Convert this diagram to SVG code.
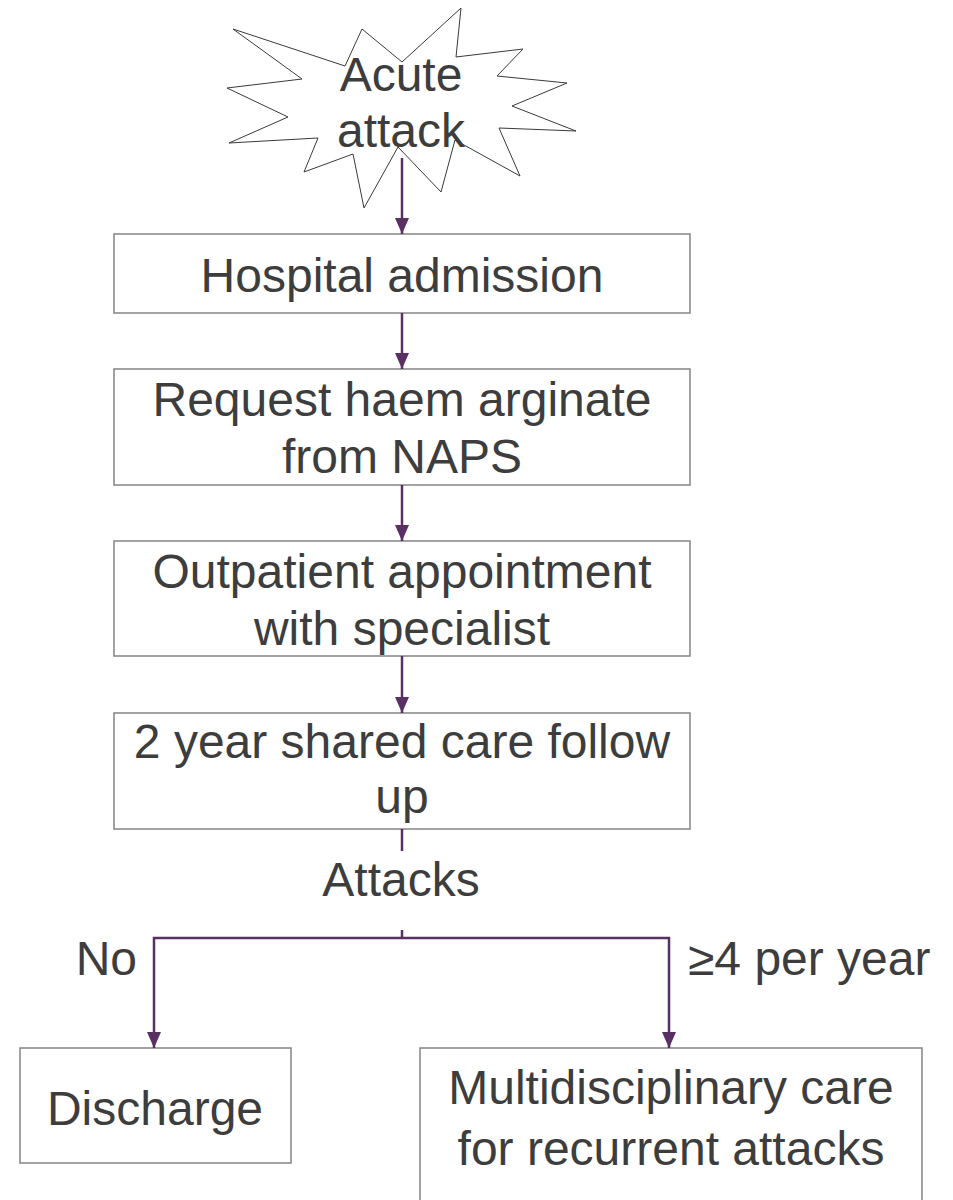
<svg xmlns="http://www.w3.org/2000/svg" width="953" height="1200" viewBox="0 0 953 1200">
<defs>
<style>
.box{fill:#ffffff;stroke:#8c8c8c;stroke-width:1.6}
.star{fill:#ffffff;stroke:#3a3a3a;stroke-width:1}
.t{font-family:"Liberation Sans",Arial,sans-serif;font-size:48px;fill:#3d3d3d;text-anchor:middle}
.c{fill:none;stroke:#5a2f63;stroke-width:2.5}
</style>
<marker id="ah" markerUnits="userSpaceOnUse" markerWidth="16" markerHeight="14" refX="16" refY="7" orient="auto">
<path d="M0,0 L16,7 L0,14 Z" fill="#5a2f63"/>
</marker>
</defs>
<rect width="953" height="1200" fill="#ffffff"/>
<g id="n-acute">
<polygon class="star" points="233,29 345,66 362,29 402,62 461,8 456,57 523,49 497,76 567,83 512,106 576,131 499,128 520,176 455,140 441,192 398,147 364,208 353,154 304,172 318,138 229,143 288,117 227,88 302,79"/>
<text class="t" x="401" y="91">Acute</text>
<text class="t" x="401" y="147">attack</text>
</g>
<g id="n-hospital">
<rect class="box" x="114" y="234" width="576" height="79"/>
<text class="t" x="402" y="292">Hospital admission</text>
</g>
<g id="n-request">
<rect class="box" x="114" y="369" width="576" height="116"/>
<text class="t" x="402" y="416">Request haem arginate</text>
<text class="t" x="402" y="473">from NAPS</text>
</g>
<g id="n-outpatient">
<rect class="box" x="114" y="541" width="576" height="115"/>
<text class="t" x="402" y="588">Outpatient appointment</text>
<text class="t" x="402" y="645">with specialist</text>
</g>
<g id="n-followup">
<rect class="box" x="114" y="713" width="576" height="116"/>
<text class="t" x="402" y="758">2 year shared care follow</text>
<text class="t" x="402" y="813">up</text>
</g>
<g id="n-discharge">
<rect class="box" x="20" y="1048" width="271" height="115"/>
<text class="t" x="155" y="1125">Discharge</text>
</g>
<g id="n-multi">
<rect class="box" x="420" y="1048" width="502" height="160"/>
<text class="t" x="671" y="1104">Multidisciplinary care</text>
<text class="t" x="671" y="1165">for recurrent attacks</text>
</g>
<g id="labels">
<text class="t" x="401" y="896">Attacks</text>
<text class="t" x="137" y="975" style="text-anchor:end">No</text>
<text class="t" x="688" y="975" style="text-anchor:start">≥4 per year</text>
</g>
<g id="connectors">
<line class="c" x1="402" y1="158" x2="402" y2="234" marker-end="url(#ah)"/>
<line class="c" x1="402" y1="313" x2="402" y2="369" marker-end="url(#ah)"/>
<line class="c" x1="402" y1="485" x2="402" y2="541" marker-end="url(#ah)"/>
<line class="c" x1="402" y1="656" x2="402" y2="713" marker-end="url(#ah)"/>
<line class="c" x1="402" y1="829" x2="402" y2="851"/>
<path class="c" d="M402,930 V938"/>
<path class="c" d="M402,938 H154 V1048" marker-end="url(#ah)"/>
<path class="c" d="M402,938 H669 V1048" marker-end="url(#ah)"/>
</g>
</svg>
